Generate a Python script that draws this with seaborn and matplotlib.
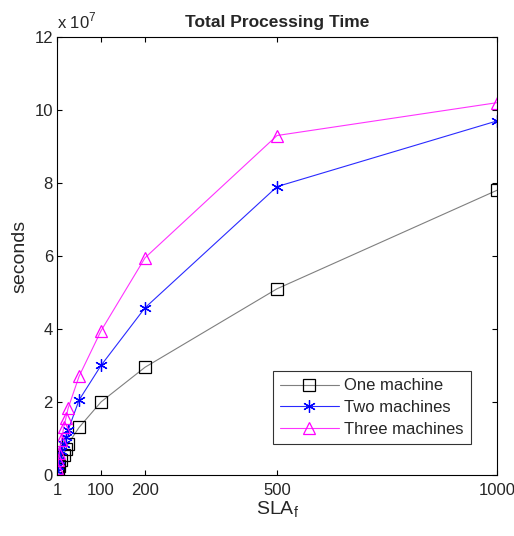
import numpy as np
import pandas as pd
import matplotlib
matplotlib.use("Agg")
import matplotlib.pyplot as plt
import seaborn as sns

# data (seconds, in units of 1e7)
sla_f = [1, 3, 5, 10, 15, 20, 25, 50, 100, 200, 500, 1000]
one_machine = [0.05, 0.15, 0.25, 0.40, 0.55, 0.70, 0.85, 1.30, 2.00, 2.95, 5.10, 7.80]
two_machines = [0.12, 0.25, 0.40, 0.65, 0.85, 1.05, 1.22, 2.05, 3.00, 4.58, 7.90, 9.70]
three_machines = [0.20, 0.40, 0.60, 0.95, 1.30, 1.55, 1.82, 2.70, 3.95, 5.95, 9.30, 10.20]
x_ticks = [1, 100, 200, 500, 1000]
y_ticks = [0, 2, 4, 6, 8, 10, 12]

sns.set_style("ticks")
plt.rcParams['font.family'] = ['Liberation Sans', 'DejaVu Sans']
plt.rcParams['mathtext.fontset'] = 'custom'
plt.rcParams['mathtext.rm'] = 'Liberation Sans'
plt.rcParams['xtick.direction'] = 'in'
plt.rcParams['ytick.direction'] = 'in'

fig = plt.figure(figsize=(5.14, 5.36), dpi=100)
ax = fig.add_axes([0.111, 0.114, 0.856, 0.817])

series = [
    ("One machine", one_machine, "#7f7f7f", "k", "s", 8),
    ("Two machines", two_machines, "#2a2aff", "#0000ff", (6, 2, 0), 9),
    ("Three machines", three_machines, "#ff33ff", "#ff00ff", "^", 9),
]
for name, vals, lc, mc, mk, ms in series:
    df = pd.DataFrame({"x": sla_f, "y": vals})
    sns.lineplot(data=df, x="x", y="y", ax=ax, color=lc, lw=0.8,
                 marker=mk, markersize=ms, markerfacecolor="none",
                 markeredgecolor=mc, markeredgewidth=0.9, label=name)

ax.set_xlim(0, 1000)
ax.set_ylim(0, 12)
ax.set_xticks(x_ticks)
ax.set_yticks(y_ticks)
ax.tick_params(labelsize=12, length=3.5, top=True, right=True, color="k", width=0.8)
ax.tick_params(axis="x", pad=6)
ax.tick_params(axis="y", pad=3)
for s in ax.spines.values():
    s.set_color("k")
    s.set_linewidth(0.8)

# MATLAB-style exponent label
ax.text(0.0, 1.012, r"x 10$^{7}$", transform=ax.transAxes, fontsize=12,
        ha="left", va="bottom")

ax.set_title("Total Processing Time", fontsize=12.5, fontweight="bold", pad=7)
ax.set_xlabel(r"SLA$_{\mathrm{f}}$", fontsize=14, labelpad=1)
ax.set_ylabel("seconds", fontsize=14, labelpad=4)

leg = ax.legend(loc="lower right", bbox_to_anchor=(0.94, 0.07), fontsize=12,
                frameon=True, fancybox=False, edgecolor="k", handlelength=3.5,
                borderpad=0.45, labelspacing=0.4, handletextpad=0.3, borderaxespad=0)
leg.get_frame().set_linewidth(0.8)

fig.savefig("out.png", dpi=100)
